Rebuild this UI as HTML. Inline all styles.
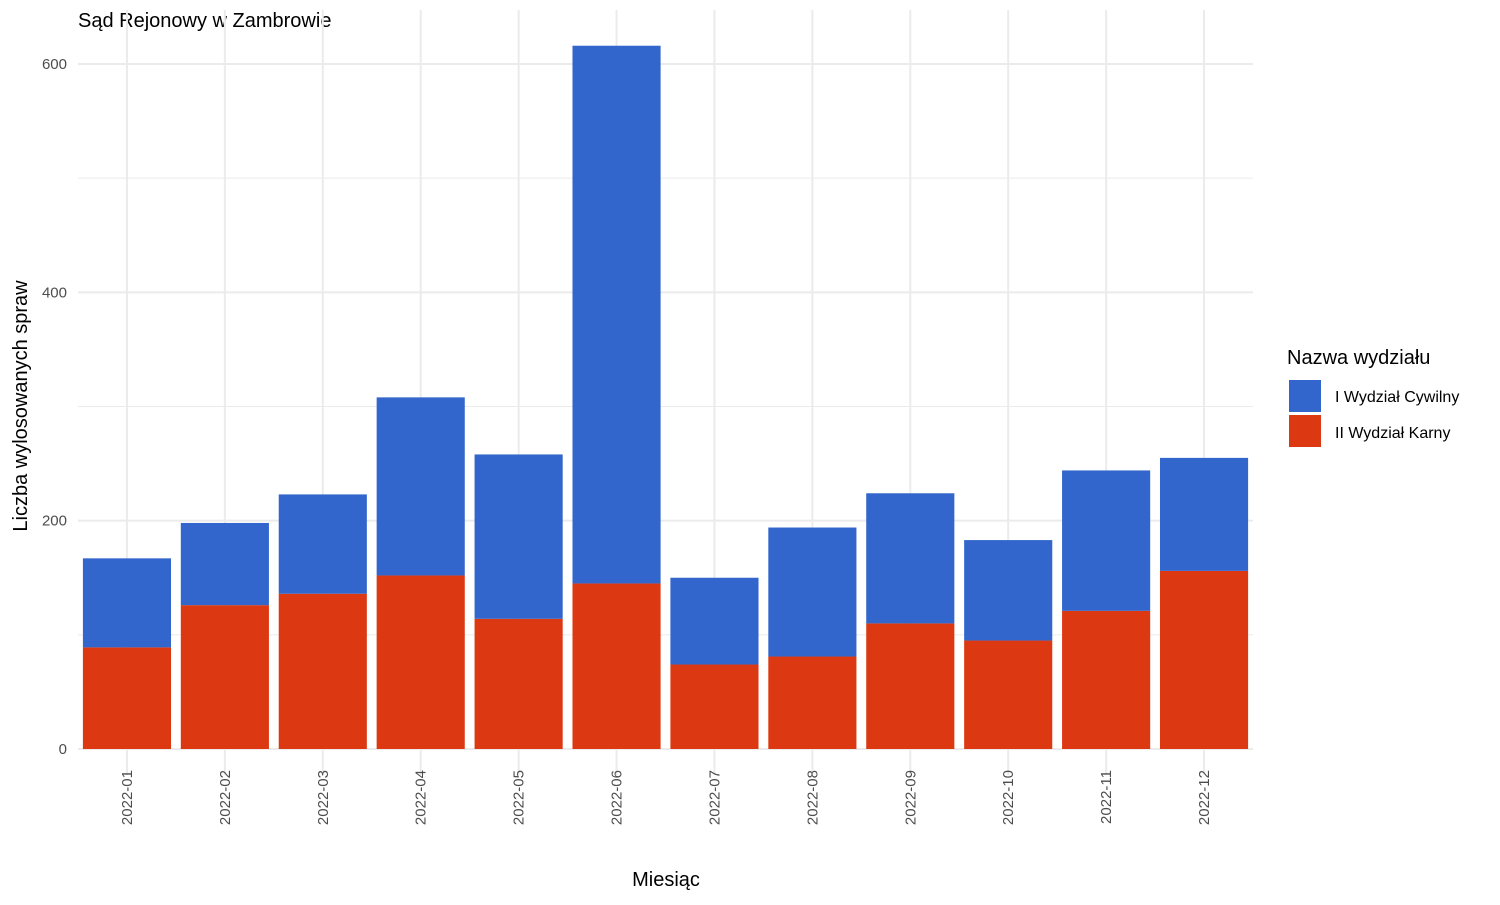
<!DOCTYPE html>
<html><head><meta charset="utf-8"><style>
body{margin:0;background:#fff;font-family:"Liberation Sans",sans-serif;}
</style></head><body>
<svg id="chart" width="1500" height="900" xmlns="http://www.w3.org/2000/svg" font-family="Liberation Sans, sans-serif">
<text x="78" y="27" font-size="20" fill="#000">Sąd Rejonowy w Zambrowie</text>
<g id="grid"></g><g id="bars"></g><g id="axes"></g>
<text x="666" y="886" font-size="20" text-anchor="middle" fill="#000">Miesiąc</text>
<text transform="translate(27,406) rotate(-90)" font-size="20" text-anchor="middle" fill="#000">Liczba wylosowanych spraw</text>
<g>
<text x="1287" y="364" font-size="20" fill="#000">Nazwa wydziału</text>
<rect x="1289" y="380" width="32" height="32" fill="#3366CC"/>
<text x="1335" y="402" font-size="16" fill="#000">I Wydział Cywilny</text>
<rect x="1289" y="415" width="32" height="32" fill="#DC3912"/>
<text x="1335" y="438" font-size="16" fill="#000">II Wydział Karny</text>
</g>
</svg>
<script>
const categories=["2022-01","2022-02","2022-03","2022-04","2022-05","2022-06","2022-07","2022-08","2022-09","2022-10","2022-11","2022-12"];
const criminal=[89,126,136,152,114,145,74,81,110,95,121,156];
const civil=[78,72,87,156,144,471,76,113,114,88,123,99];
const yTicks=[0,200,400,600];
const yMinor=[100,300,500];
const NS="http://www.w3.org/2000/svg";
const x0=78,x1=1253,step=(x1-x0)/categories.length,bw=step*0.9;
const yScale=v=>749-v*(685/600);
const xc=i=>x0+step*(i+0.5);
function mk(t,a,p){const e=document.createElementNS(NS,t);for(const k in a)e.setAttribute(k,a[k]);p.appendChild(e);return e;}
const grid=document.getElementById('grid'),bars=document.getElementById('bars'),axes=document.getElementById('axes');
yMinor.forEach(v=>{const l=mk('line',{x1:x0,x2:x1,y1:yScale(v),y2:yScale(v),stroke:'#ebebeb','stroke-width':1},grid);

});
yTicks.forEach(v=>{const l=mk('line',{x1:x0,x2:x1,y1:yScale(v),y2:yScale(v),stroke:'#ebebeb','stroke-width':2},grid);


const t=mk('text',{x:67,y:yScale(v)+5,'font-size':15,'text-anchor':'end',fill:'#4d4d4d'},axes);t.textContent=v;

});
categories.forEach((c,i)=>{
const l=mk('line',{x1:xc(i),x2:xc(i),y1:10,y2:775,stroke:'#ebebeb','stroke-width':2},grid);


const r1=mk('rect',{x:xc(i)-bw/2,y:yScale(criminal[i]),width:bw,height:yScale(0)-yScale(criminal[i]),fill:'#DC3912'},bars);


const tot=criminal[i]+civil[i];
const r2=mk('rect',{x:xc(i)-bw/2,y:yScale(tot),width:bw,height:yScale(criminal[i])-yScale(tot),fill:'#3366CC'},bars);


const t=mk('text',{transform:`translate(${xc(i)+5},770) rotate(-90)`,'font-size':15,'text-anchor':'end',fill:'#4d4d4d'},axes);t.textContent=c;

});
</script>
</body></html>
